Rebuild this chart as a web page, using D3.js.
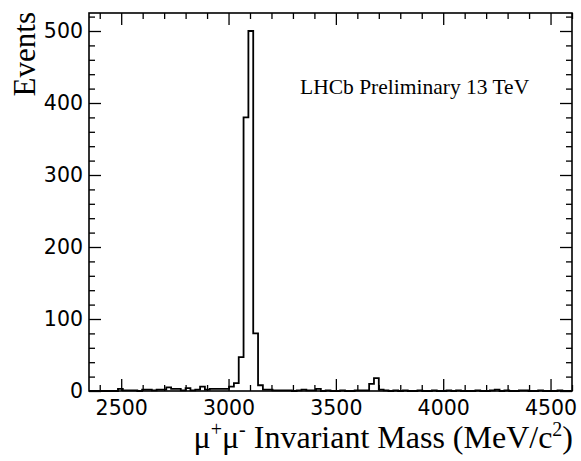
<!DOCTYPE html>
<meta charset="utf-8">
<head>
    <script src="https://d3js.org/d3.v7.min.js"></script>
    <style>
        body { margin: 0; background: #fff; }
        .frame { fill: none; stroke: #000; stroke-width: 1.6px; }
        .hist { fill: none; stroke: #000; stroke-width: 1.8px; }
        .axis path { display: none; }
        .axis line { stroke: #000; stroke-width: 1.3px; }
        .axis text { font-family: "DejaVu Sans", sans-serif; font-size: 20.5px; fill: #000; }
        .title { font-family: "Liberation Serif", serif; fill: #000; }
    </style>
</head>
<body>
<script type="text/javascript">

    // histogram: 100 bins of 22.5 MeV from 2350 to 4600
    var binStart = 2350;
    var binWidth = 22.5;
    var counts = [
        0, 0, 0, 0, 0, 0, 3, 1, 1, 1,
        0, 2, 2, 1, 2, 2, 5, 3, 3, 1,
        4, 1, 2, 6, 2, 3, 3, 3, 3, 6,
        11, 47, 380, 500, 80, 8, 2, 2, 1, 1,
        1, 1, 0, 1, 2, 1, 1, 3, 0, 1,
        0, 0, 1, 0, 0, 1, 1, 1, 10, 18,
        2, 1, 0, 1, 0, 1, 0, 0, 1, 0,
        0, 1, 0, 0, 1, 0, 1, 0, 0, 0,
        1, 0, 0, 1, 2, 0, 1, 0, 0, 1,
        1, 0, 0, 1, 0, 0, 0, 1, 0, 0
    ];

    var xMajor = [2500, 3000, 3500, 4000, 4500];
    var yMajor = [0, 100, 200, 300, 400, 500];

    var width = 581;
    var height = 461;
    var pad = { left: 89, right: 572, top: 13, bottom: 391 };

    var svg = d3.select("body")
        .append("svg")
        .attr("width", width)
        .attr("height", height);

    var x = d3.scaleLinear().domain([2350, 4600]).range([pad.left, pad.right]);
    var y = d3.scaleLinear().domain([0, 525]).range([pad.bottom, pad.top]);

    // minor ticks
    var xMinor = d3.range(2400, 4601, 100).filter(function (d) { return d % 500 !== 0; });
    var yMinor = d3.range(20, 521, 20).filter(function (d) { return d % 100 !== 0; });

    // bottom axis
    svg.append("g")
        .attr("class", "axis")
        .attr("transform", "translate(0," + pad.bottom + ")")
        .call(d3.axisBottom(x).tickValues(xMajor).tickSize(-12).tickPadding(9).tickFormat(d3.format("d")));
    svg.append("g")
        .attr("class", "axis")
        .attr("transform", "translate(0," + pad.bottom + ")")
        .call(d3.axisBottom(x).tickValues(xMinor).tickSize(-6).tickFormat(""));

    // top axis (no labels)
    svg.append("g")
        .attr("class", "axis")
        .attr("transform", "translate(0," + pad.top + ")")
        .call(d3.axisTop(x).tickValues(xMajor).tickSize(-12).tickFormat(""));
    svg.append("g")
        .attr("class", "axis")
        .attr("transform", "translate(0," + pad.top + ")")
        .call(d3.axisTop(x).tickValues(xMinor).tickSize(-6).tickFormat(""));

    // left axis
    svg.append("g")
        .attr("class", "axis")
        .attr("transform", "translate(" + pad.left + ",0)")
        .call(d3.axisLeft(y).tickValues(yMajor).tickSize(-12).tickPadding(6).tickFormat(d3.format("d")));
    svg.append("g")
        .attr("class", "axis")
        .attr("transform", "translate(" + pad.left + ",0)")
        .call(d3.axisLeft(y).tickValues(yMinor).tickSize(-6).tickFormat(""));

    // right axis (no labels)
    svg.append("g")
        .attr("class", "axis")
        .attr("transform", "translate(" + pad.right + ",0)")
        .call(d3.axisRight(y).tickValues(yMajor).tickSize(-12).tickFormat(""));
    svg.append("g")
        .attr("class", "axis")
        .attr("transform", "translate(" + pad.right + ",0)")
        .call(d3.axisRight(y).tickValues(yMinor).tickSize(-6).tickFormat(""));

    // histogram outline
    var pts = counts.map(function (c, i) { return [binStart + i * binWidth, c]; });
    pts.push([binStart + counts.length * binWidth, counts[counts.length - 1]]);

    var line = d3.line()
        .x(function (d) { return x(d[0]); })
        .y(function (d) { return y(d[1]); })
        .curve(d3.curveStepAfter);

    svg.append("path")
        .attr("class", "hist")
        .attr("d", line(pts));

    // frame
    svg.append("rect")
        .attr("class", "frame")
        .attr("x", pad.left)
        .attr("y", pad.top)
        .attr("width", pad.right - pad.left)
        .attr("height", pad.bottom - pad.top);

    // titles
    svg.append("text")
        .attr("class", "title")
        .attr("transform", "translate(35," + (pad.top - 1) + ") rotate(-90)")
        .attr("text-anchor", "end")
        .attr("font-size", "31px")
        .text("Events");

    var xt = svg.append("text")
        .attr("class", "title")
        .attr("x", pad.right + 1)
        .attr("y", 448)
        .attr("text-anchor", "end")
        .attr("font-size", "32px");
    xt.append("tspan").text("\u03bc");
    xt.append("tspan").attr("dy", -12).attr("font-size", "20px").text("+");
    xt.append("tspan").attr("dy", 12).text("\u03bc");
    xt.append("tspan").attr("dy", -12).attr("font-size", "20px").text("-");
    xt.append("tspan").attr("dy", 12).text(" Invariant Mass (MeV/c");
    xt.append("tspan").attr("dy", -12).attr("font-size", "20px").text("2");
    xt.append("tspan").attr("dy", 12).text(")");

    svg.append("text")
        .attr("class", "title")
        .attr("x", 300)
        .attr("y", 94)
        .attr("font-size", "21.5px")
        .text("LHCb Preliminary 13 TeV");

</script>
</body>
</html>
